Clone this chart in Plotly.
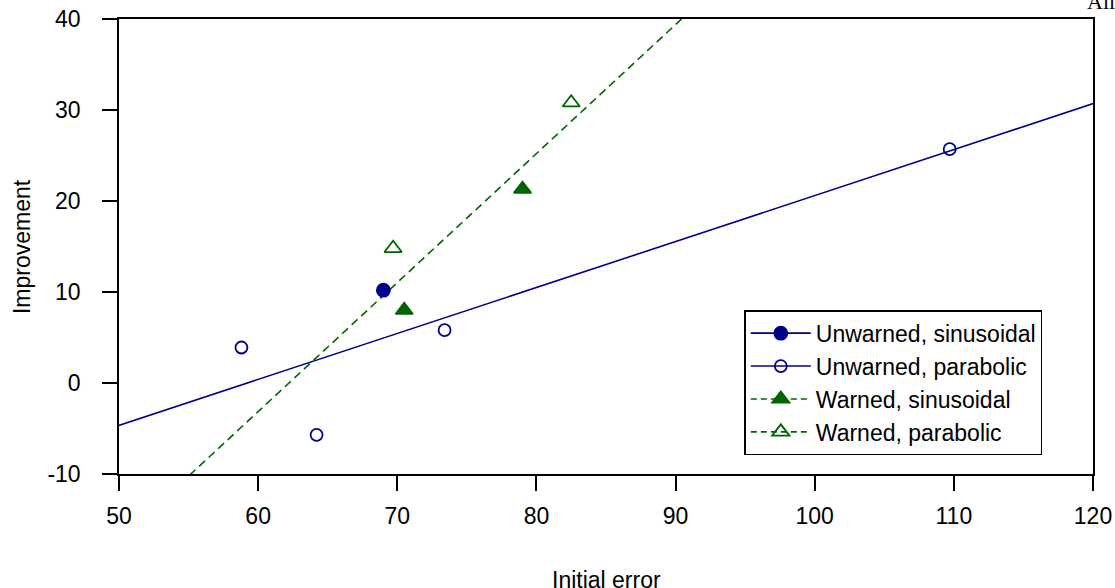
import numpy as np
import plotly.graph_objects as go

# Data
uw_sin_x = [69.0]
uw_sin_y = [10.2]
uw_par_x = [58.8, 64.2, 73.4, 109.7]
uw_par_y = [3.9, -5.7, 5.8, 25.7]
w_sin_x = [70.5, 79.0]
w_sin_y = [8.0, 21.3]
w_par_x = [69.7, 82.5]
w_par_y = [14.8, 30.8]

x_ticks = [50, 60, 70, 80, 90, 100, 110, 120]
y_ticks = [-10, 0, 10, 20, 30, 40]
y_tick_text = ["-10", "0", "10", "20", "30", "40"]

BLUE = "#00008B"
GREEN = "#006400"
FONT = "Liberation Sans, Arial, Helvetica, sans-serif"
FS = 23

# Regression lines (fit to each group)
uw_x = np.array(uw_sin_x + uw_par_x)
uw_y = np.array(uw_sin_y + uw_par_y)
w_x = np.array(w_sin_x + w_par_x)
w_y = np.array(w_sin_y + w_par_y)
b_uw = np.polyfit(uw_x, uw_y, 1)
b_w = np.polyfit(w_x, w_y, 1)
xl = np.linspace(40, 130, 200)

fig = go.Figure()
fig.add_trace(go.Scatter(x=xl, y=np.polyval(b_uw, xl), mode="lines",
                         line=dict(color=BLUE, width=1.6), showlegend=False, hoverinfo="skip"))
fig.add_trace(go.Scatter(x=xl, y=np.polyval(b_w, xl), mode="lines",
                         line=dict(color=GREEN, width=1.6, dash="8px,5px"), showlegend=False, hoverinfo="skip"))

series = [
    ("Unwarned, sinusoidal", uw_sin_x, uw_sin_y, BLUE, "circle", 13, "solid"),
    ("Unwarned, parabolic", uw_par_x, uw_par_y, BLUE, "circle-open", 12, "solid"),
    ("Warned, sinusoidal", w_sin_x, w_sin_y, GREEN, "triangle-up", 15, "6px,4px"),
    ("Warned, parabolic", w_par_x, w_par_y, GREEN, "triangle-up-open", 15, "6px,4px"),
]
for name, xs, ys, col, sym, sz, dash in series:
    fig.add_trace(go.Scatter(x=xs, y=ys, mode="markers", name=name, showlegend=False,
                             marker=dict(color=col, symbol=sym, size=sz,
                                         line=dict(color=col, width=1.8))))
    fig.add_trace(go.Scatter(x=[None], y=[None], mode="lines+markers", name=name,
                             line=dict(color=col, width=1.6, dash=dash),
                             marker=dict(color=col, symbol=sym, size=sz,
                                         line=dict(color=col, width=1.8))))

axis_common = dict(showline=True, linecolor="black", linewidth=1.5, mirror=True,
                   showgrid=False, zeroline=False, ticks="outside", ticklen=15,
                   tickwidth=1.5, tickcolor="black", automargin=False,
                   tickfont=dict(family=FONT, size=FS, color="black"))
fig.update_xaxes(range=[50, 120], tickvals=x_ticks, ticklabelstandoff=6, **axis_common)
fig.update_yaxes(range=[-10, 40], tickvals=y_ticks, ticktext=y_tick_text,
                 ticklabelstandoff=17, **axis_common)

fig.update_layout(
    width=1115, height=588,
    margin=dict(l=119, r=22, t=19, b=114),
    paper_bgcolor="white", plot_bgcolor="white",
    font=dict(family=FONT, size=FS, color="black"),
    legend=dict(x=0.642, y=0.36, xanchor="left", yanchor="top",
                bordercolor="black", borderwidth=1.5, bgcolor="white",
                font=dict(family=FONT, size=FS, color="black"),
                itemwidth=60, tracegroupgap=0),
    annotations=[
        dict(text="Initial error", xref="paper", yref="paper", x=0.5, y=-0.2,
             xanchor="center", yanchor="top", showarrow=False,
             font=dict(family=FONT, size=FS, color="black")),
        dict(text="Improvement", xref="paper", yref="paper", x=-0.1, y=0.5,
             xanchor="center", yanchor="middle", textangle=-90, showarrow=False,
             font=dict(family=FONT, size=FS, color="black")),
        dict(text="All", xref="paper", yref="paper", x=0.992, y=1.021, yshift=-7,
             xanchor="left", yanchor="bottom", showarrow=False,
             font=dict(family="Liberation Serif, Times New Roman, serif", size=22, color="black")),
    ],
)

fig.write_html("out.html", config={"displayModeBar": False},
               post_script="document.body.style.margin='0';")
